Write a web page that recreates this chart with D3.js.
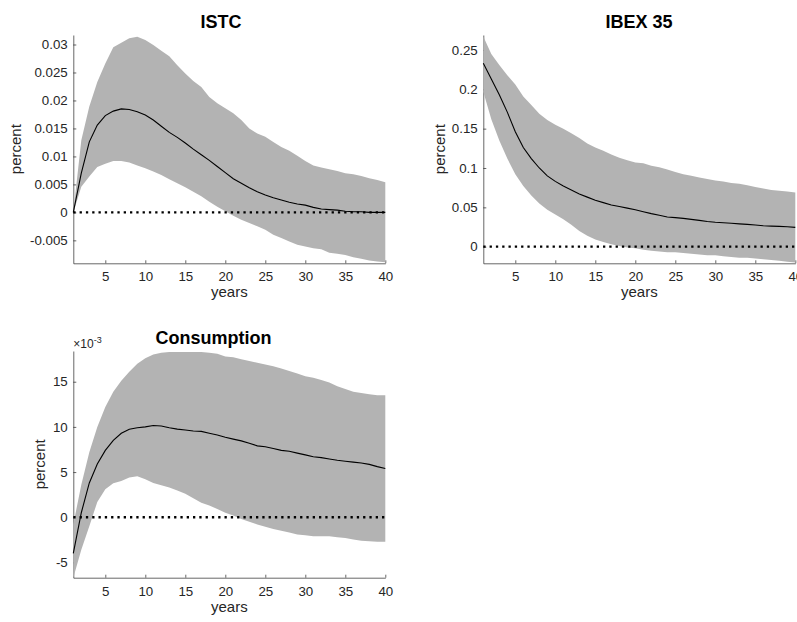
<!DOCTYPE html>
<html>
<head>
<meta charset="utf-8">
<script src="https://cdn.jsdelivr.net/npm/d3@7"></script>
<style>
  html, body { margin: 0; padding: 0; background: #fff; }
  svg { display: block; font-family: "Liberation Sans", Arial, Helvetica, sans-serif; }
</style>
</head>
<body>
<svg id="chart" width="797" height="622"></svg>
<script>
// Horizon (years after the shock)
const years = [1, 2, 3, 4, 5, 6, 7, 8, 9, 10, 11, 12, 13, 14, 15, 16, 17, 18, 19, 20,
               21, 22, 23, 24, 25, 26, 27, 28, 29, 30, 31, 32, 33, 34, 35, 36, 37, 38, 39, 40];
const xTicks = [5, 10, 15, 20, 25, 30, 35, 40];

// ISTC response: median and error band
const istcMean = [0, 0.0070, 0.0126, 0.0156, 0.0173, 0.0181, 0.0185, 0.0184, 0.0180, 0.0174,
                  0.0165, 0.0154, 0.0143, 0.0134, 0.0124, 0.0113, 0.0103, 0.0093, 0.0082, 0.0071,
                  0.0060, 0.0052, 0.0044, 0.0037, 0.0031, 0.0026, 0.0022, 0.0018, 0.0015, 0.0013,
                  0.0009, 0.0006, 0.0005, 0.0004, 0.0002, 0.0001, 0.0001, 0.0000, 0.0000, 0.0000];
const istcUpper = [0, 0.0129, 0.0189, 0.0233, 0.0266, 0.0295, 0.0303, 0.0311, 0.0314, 0.0308,
                   0.0299, 0.0289, 0.0279, 0.0263, 0.0248, 0.0235, 0.0224, 0.0206, 0.0195, 0.0186,
                   0.0177, 0.0165, 0.0150, 0.0141, 0.0135, 0.0126, 0.0117, 0.0110, 0.0101, 0.0092,
                   0.0084, 0.0080, 0.0077, 0.0074, 0.0070, 0.0068, 0.0065, 0.0061, 0.0058, 0.0054];
const istcLower = [0, 0.0046, 0.0064, 0.0081, 0.0087, 0.0092, 0.0092, 0.0089, 0.0084, 0.0079,
                   0.0073, 0.0067, 0.0059, 0.0052, 0.0045, 0.0037, 0.0029, 0.0019, 0.0010, 0.0002,
                   -0.0006, -0.0013, -0.0019, -0.0025, -0.0031, -0.0040, -0.0046, -0.0052, -0.0058, -0.0061,
                   -0.0064, -0.0066, -0.0072, -0.0074, -0.0076, -0.0080, -0.0083, -0.0086, -0.0088, -0.0089];
const istcTicks = [-0.005, 0, 0.005, 0.01, 0.015, 0.02, 0.025, 0.03];

// IBEX 35 response
const ibexMean = [0.233, 0.213, 0.193, 0.171, 0.146, 0.126, 0.112, 0.100, 0.090, 0.083,
                  0.077, 0.072, 0.067, 0.063, 0.059, 0.056, 0.053, 0.051, 0.049, 0.047,
                  0.0445, 0.042, 0.040, 0.0378, 0.037, 0.036, 0.0347, 0.0335, 0.032, 0.031,
                  0.0305, 0.0297, 0.029, 0.0284, 0.0275, 0.0267, 0.0262, 0.0258, 0.0254, 0.0246];
const ibexUpper = [0.267, 0.245, 0.231, 0.218, 0.206, 0.191, 0.180, 0.169, 0.161, 0.155,
                   0.150, 0.144, 0.138, 0.131, 0.126, 0.122, 0.117, 0.113, 0.110, 0.107,
                   0.106, 0.103, 0.101, 0.098, 0.095, 0.092, 0.090, 0.088, 0.086, 0.084,
                   0.083, 0.081, 0.080, 0.078, 0.076, 0.074, 0.072, 0.071, 0.070, 0.069];
const ibexLower = [0.197, 0.162, 0.135, 0.112, 0.092, 0.077, 0.065, 0.055, 0.047, 0.041,
                   0.035, 0.028, 0.020, 0.014, 0.009, 0.006, 0.003, 0.001, -0.001, -0.002,
                   -0.004, -0.005, -0.006, -0.007, -0.007, -0.008, -0.009, -0.010, -0.011, -0.011,
                   -0.012, -0.013, -0.014, -0.014, -0.015, -0.016, -0.017, -0.018, -0.019, -0.020];
const ibexTicks = [0, 0.05, 0.1, 0.15, 0.2, 0.25];

// Consumption response
const consMean = [-0.0040, 0.0005, 0.0038, 0.0059, 0.0074, 0.0085, 0.0093, 0.00975, 0.0099, 0.0100,
                  0.01015, 0.0101, 0.0099, 0.00975, 0.00965, 0.00955, 0.0095, 0.0093, 0.0091, 0.00885,
                  0.00865, 0.00845, 0.0082, 0.0079, 0.0078, 0.0076, 0.0074, 0.0073, 0.0071, 0.0069,
                  0.0067, 0.0066, 0.00645, 0.0063, 0.0062, 0.0061, 0.0060, 0.00585, 0.0056, 0.0054];
const consUpper = [-0.0008, 0.0036, 0.0072, 0.0100, 0.0122, 0.0139, 0.0151, 0.0161, 0.0170, 0.0176,
                   0.0180, 0.0182, 0.0183, 0.0183, 0.0183, 0.0183, 0.0183, 0.0182, 0.0181, 0.0178,
                   0.0177, 0.0175, 0.0173, 0.0171, 0.0169, 0.0167, 0.01645, 0.0162, 0.0159, 0.0156,
                   0.01545, 0.0152, 0.0149, 0.0145, 0.0142, 0.0139, 0.01375, 0.0136, 0.0135, 0.0135];
const consLower = [-0.0067, -0.0036, -0.0010, 0.0017, 0.0031, 0.00375, 0.0040, 0.0044, 0.00455, 0.0042,
                   0.0038, 0.00355, 0.0033, 0.00295, 0.0026, 0.0021, 0.0016, 0.0013, 0.0009, 0.0005,
                   0.0002, -0.0002, -0.0005, -0.0008, -0.00105, -0.0013, -0.0015, -0.0017, -0.0019, -0.0020,
                   -0.0021, -0.0021, -0.0021, -0.0022, -0.0023, -0.00245, -0.0026, -0.00265, -0.0027, -0.0027];
const consTicks = [-0.005, 0, 0.005, 0.01, 0.015];

const svg = d3.select("#chart");

const panels = [
  { title: "ISTC", mean: istcMean, upper: istcUpper, lower: istcLower, yTicks: istcTicks,
    fmt: v => String(+v.toFixed(4)),
    left: 73.3, right: 385.3, top: 35, bottom: 263.3, yDomain: [-0.0091, 0.0317],
    titleX: 221, titleY: 28.3, yLabelX: 20.5 },
  { title: "IBEX 35", mean: ibexMean, upper: ibexUpper, lower: ibexLower, yTicks: ibexTicks,
    fmt: v => String(+v.toFixed(3)),
    left: 483.3, right: 795.3, top: 35, bottom: 263.3, yDomain: [-0.0211, 0.269],
    titleX: 639, titleY: 28.3, yLabelX: 444.5 },
  { title: "Consumption", mean: consMean, upper: consUpper, lower: consLower, yTicks: consTicks,
    fmt: v => String(Math.round(v * 1000)), exponent: "-3",
    left: 73.3, right: 385.3, top: 351, bottom: 577.7, yDomain: [-0.00669, 0.0184],
    titleX: 213.5, titleY: 343.5, yLabelX: 44.5 }
];

const axisColor = "#262626";

panels.forEach(p => {
  const x = d3.scaleLinear().domain([1, 40]).range([p.left, p.right]);
  const y = d3.scaleLinear().domain(p.yDomain).range([p.bottom, p.top]);
  const g = svg.append("g");

  // Axes (ticks point inward)
  const xAxis = d3.axisBottom(x).tickValues(xTicks).tickSizeInner(-3).tickSizeOuter(0)
    .tickPadding(8.5).tickFormat(d3.format("d"));
  const yAxis = d3.axisLeft(y).tickValues(p.yTicks).tickSizeInner(-3).tickSizeOuter(0)
    .tickPadding(5.6).tickFormat(p.fmt);

  [g.append("g").attr("transform", `translate(0,${p.bottom})`).call(xAxis),
   g.append("g").attr("transform", `translate(${p.left},0)`).call(yAxis)].forEach(a => {
    a.selectAll("path.domain, .tick line").attr("stroke", axisColor).attr("stroke-width", 0.7);
    a.selectAll(".tick text").attr("fill", axisColor).style("font-size", "13.3px")
      .style("font-family", "'Liberation Sans', Arial, sans-serif");
  });

  // Error band
  const area = d3.area()
    .x((d, i) => x(years[i]))
    .y0((d, i) => y(p.lower[i]))
    .y1((d, i) => y(p.upper[i]));
  g.append("path").datum(p.mean).attr("d", area).attr("fill", "#b3b3b3");

  // Zero reference line
  g.append("line")
    .attr("x1", x(1)).attr("x2", x(40)).attr("y1", y(0)).attr("y2", y(0))
    .attr("stroke", "#000").attr("stroke-width", 2.3).attr("stroke-dasharray", "2.3,4");

  // Median response
  const line = d3.line().x((d, i) => x(years[i])).y(d => y(d));
  g.append("path").datum(p.mean).attr("d", line)
    .attr("fill", "none").attr("stroke", "#000").attr("stroke-width", 1.1);

  // Title and labels
  g.append("text").attr("x", p.titleX).attr("y", p.titleY).attr("text-anchor", "middle")
    .style("font-size", "18px").style("font-weight", "bold").attr("fill", "#000").text(p.title);

  g.append("text").attr("x", (p.left + p.right) / 2).attr("y", p.bottom + 34)
    .attr("text-anchor", "middle").style("font-size", "15px").attr("fill", axisColor).text("years");

  g.append("text")
    .attr("transform", `translate(${p.yLabelX},${(p.top + p.bottom) / 2}) rotate(-90)`)
    .attr("text-anchor", "middle").style("font-size", "15px").attr("fill", axisColor).text("percent");

  if (p.exponent) {
    const t = g.append("text").attr("x", p.left).attr("y", p.top - 3.5)
      .style("font-size", "12px").attr("fill", axisColor);
    t.append("tspan").text("\u00d710");
    t.append("tspan").attr("dy", -5).style("font-size", "9px").text(p.exponent);
  }
});
</script>
</body>
</html>
